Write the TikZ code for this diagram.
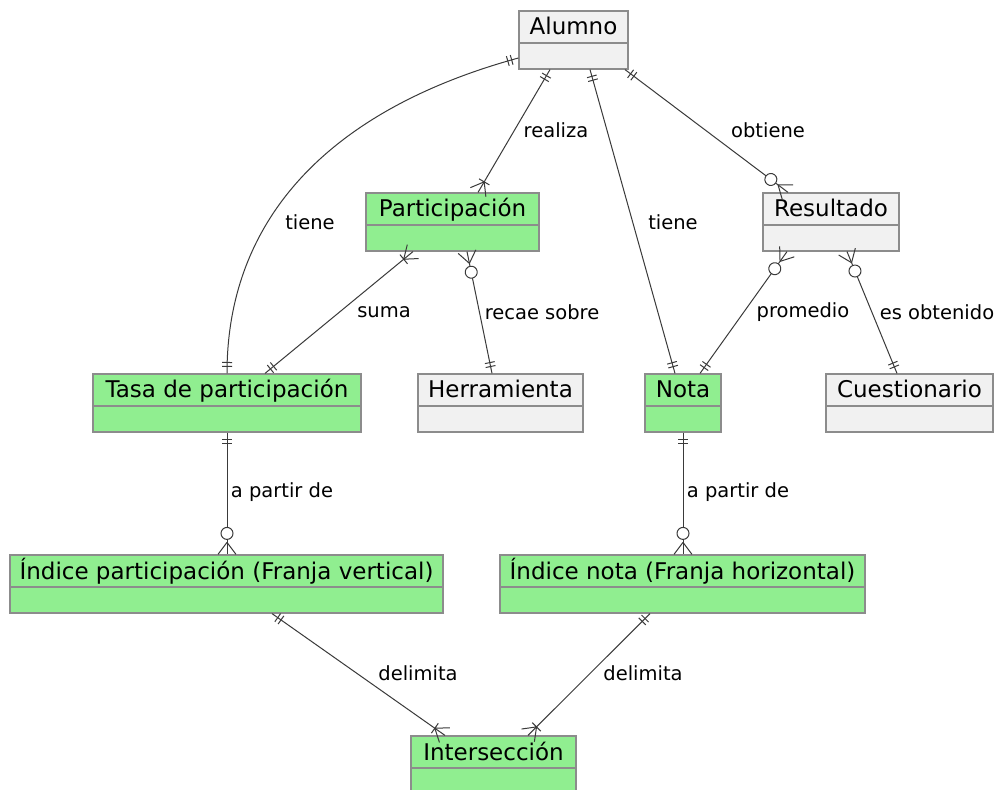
\documentclass[tikz,border=0pt]{standalone}
\usepackage{fontspec}
\setmainfont{DejaVu Sans}
\usepackage{tikz}
\usetikzlibrary{calc,decorations.markings}

\definecolor{entgreen}{HTML}{90EE90}
\definecolor{entgrey}{HTML}{F1F1F1}
\definecolor{entborder}{HTML}{8C8C8C}
\definecolor{relcol}{HTML}{3A3A3A}

\tikzset{
  entity/.style={draw=entborder, line width=0.6pt, inner xsep=0pt, inner ysep=0pt,
    text height=12pt, text depth=17pt, font=\fontsize{11.5}{13}\selectfont,
    path picture={\draw[entborder, line width=0.6pt]
      ([yshift=-16pt]path picture bounding box.north west) --
      ([yshift=-16pt]path picture bounding box.north east);}},
  rel/.style={draw=relcol, line width=0.5pt},
  tick/.style={draw=relcol, line width=0.5pt},
  lbl/.style={font=\fontsize{9.75}{11}\selectfont, inner sep=0pt},
  % exactly one
  one start/.style={postaction={decorate, decoration={markings,
    mark=at position 3.5pt with {\draw[tick] (0,-2.5pt) -- (0,2.5pt);},
    mark=at position 5.5pt with {\draw[tick] (0,-2.5pt) -- (0,2.5pt);}}}},
  one end/.style={postaction={decorate, decoration={markings,
    mark=at position -3.5pt with {\draw[tick] (0,-2.5pt) -- (0,2.5pt);},
    mark=at position -5.5pt with {\draw[tick] (0,-2.5pt) -- (0,2.5pt);}}}},
  % one or many
  many start/.style={postaction={decorate, decoration={markings,
    mark=at position 6pt with {\draw[tick] (0,-3pt) -- (0,3pt)
      (0,0) -- (-6pt,4.5pt) (0,0) -- (-6pt,-4.5pt);}}}},
  many end/.style={postaction={decorate, decoration={markings,
    mark=at position -6pt with {\draw[tick] (0,-3pt) -- (0,3pt)
      (0,0) -- (6pt,4.5pt) (0,0) -- (6pt,-4.5pt);}}}},
  % zero or many
  zmany start/.style={postaction={decorate, decoration={markings,
    mark=at position 6pt with {\draw[tick] (0,0) -- (-6pt,4.5pt) (0,0) -- (-6pt,-4.5pt);},
    mark=at position 10.5pt with {\draw[tick, fill=white] (0,0) circle (3pt);}}}},
  zmany end/.style={postaction={decorate, decoration={markings,
    mark=at position -6pt with {\draw[tick] (0,0) -- (6pt,4.5pt) (0,0) -- (6pt,-4.5pt);},
    mark=at position -10.5pt with {\draw[tick, fill=white] (0,0) circle (3pt);}}}},
}

\begin{document}
\begin{tikzpicture}[x=0.5pt, y=-0.5pt]
  \useasboundingbox[fill=white] (0,0) rectangle (1000,790);

  % entities
  \foreach \name/\x/\y/\w/\txt/\col in {
      alumno/573.5/40/54.5/Alumno/entgrey,
      participacion/452.5/222/86.5/Participación/entgreen,
      resultado/831/222/68/Resultado/entgrey,
      tasa/227/403/134/Tasa de participación/entgreen,
      herramienta/500.5/403/82.5/Herramienta/entgrey,
      nota/683/403/38/Nota/entgreen,
      cuestionario/909.5/403/83.5/Cuestionario/entgrey,
      indicepart/226.5/584/216.5/Índice participación (Franja vertical)/entgreen,
      indicenota/682.5/584/182.5/Índice nota (Franja horizontal)/entgreen,
      interseccion/493.5/765/82.5/Intersección/entgreen}
    \node[entity, fill=\col, minimum width=\w pt] (\name) at (\x,\y) {\txt};

  % relations
  \draw[rel, one start, one end] ($(alumno.west)+(0,18)$)
    .. controls +(-190,52) and +(0,-154) .. (tasa.north);
  \draw[rel, one start, many end] ($(alumno.south)+(-23.5,0)$) -- ($(participacion.north)+(25.5,0)$);
  \draw[rel, one start, one end] ($(alumno.south)+(16.5,0)$) -- ($(nota.north)+(-8,0)$);
  \draw[rel, one start, zmany end] ($(alumno.south)+(51.5,0)$) -- ($(resultado.north)+(-43,0)$);
  \draw[rel, many start, one end] ($(participacion.south)+(-39.5,0)$) -- ($(tasa.north)+(38,0)$);
  \draw[rel, zmany start, one end] ($(participacion.south)+(14.5,0)$) -- ($(herramienta.north)+(-8.5,0)$);
  \draw[rel, zmany start, one end] ($(resultado.south)+(-44,0)$) -- ($(nota.north)+(17,0)$);
  \draw[rel, zmany start, one end] ($(resultado.south)+(16,0)$) -- ($(cuestionario.north)+(-12.5,0)$);
  \draw[rel, one start, zmany end] (tasa.south) -- (indicepart.north -| tasa.south);
  \draw[rel, one start, zmany end] (nota.south) -- (indicenota.north -| nota.south);
  \draw[rel, one start, many end] ($(indicepart.south)+(45.5,0)$) -- ($(interseccion.north)+(-48.5,0)$);
  \draw[rel, one start, many end] ($(indicenota.south)+(-32.5,0)$) -- ($(interseccion.north)+(34.5,0)$);

  % labels
  \foreach \lx/\ly/\ltxt [count=\i] in {
      310/222/tiene, 556/130/realiza, 673/222/tiene, 768/130/obtiene,
      384/312/suma, 542/312/recae sobre, 803/312/promedio, 937/312/es obtenido,
      282/492/a partir de, 738/492/a partir de, 418/673/delimita, 643/673/delimita}
    \node[lbl] (lab\i) at (\lx,\ly) {\ltxt};
\end{tikzpicture}
\end{document}
